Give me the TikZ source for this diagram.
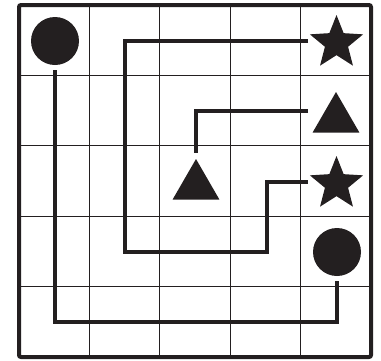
\documentclass[tikz,border=0pt]{standalone}
\usetikzlibrary{shapes.geometric,calc}
\definecolor{ink}{HTML}{231F20}
\begin{document}
\begin{tikzpicture}[x=1pt,y=-1pt,
  gridline/.style={line width=1pt,draw=ink},
  frame/.style={line width=4pt,draw=ink,rounded corners=2pt},
  route/.style={line width=4pt,draw=ink},
  dot/.style={circle,fill=ink,inner sep=0pt,outer sep=0pt,minimum size=48pt},
  starshape/.style={star,star points=5,star point ratio=2.3,fill=ink,inner sep=0pt,outer sep=0pt,minimum size=56pt},
  tri/.style={regular polygon,regular polygon sides=3,fill=ink,inner sep=0pt,outer sep=0pt,minimum size=54pt}]
\useasboundingbox (0,0) rectangle (381,360);
\foreach \i in {1,...,4} {
  \draw[gridline] (19+70.4*\i,5) -- (19+70.4*\i,357);
  \draw[gridline] (19,5+70.4*\i) -- (371,5+70.4*\i);
}
\draw[frame] (19,5) rectangle (371,357);

\node[dot] (c1) at (55,41) {};
\node[dot] (c2) at (337,252) {};
\node[starshape] (s1) at (336.5,43) {};
\node[starshape] (s2) at (336.5,184) {};
\node[tri] (t1) at (336,119) {};
\node[tri] (t2) at (196,186) {};

\coordinate (a1) at (55,322);
\draw[route] ([yshift=-5pt]c1.south) -- (a1) -| ([yshift=-5pt]c2.south);

\coordinate (b1) at (125,41);
\coordinate (b2) at (125,252);
\coordinate (b3) at (267,182);
\draw[route] ([shift={(-28.5,-2)}]s1.center) -- (b1) -- (b2) -| (b3) -- ([shift={(-28.5,-2)}]s2.center);

\coordinate (c3) at (196,111);
\draw[route] ([shift={(-28,-8)}]t1.center) -- (c3) -- ([yshift=6pt]t2.north);
\end{tikzpicture}
\end{document}
